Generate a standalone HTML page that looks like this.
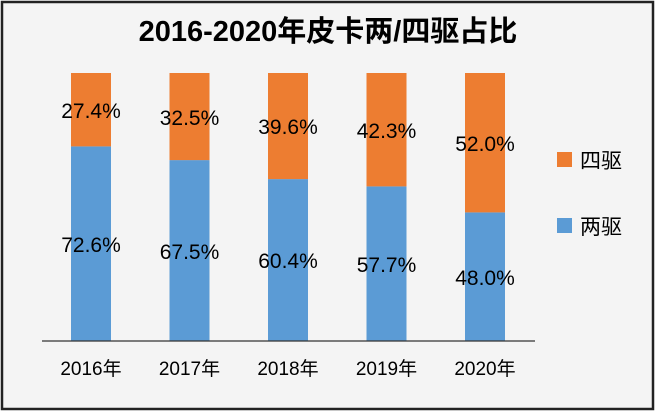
<!DOCTYPE html>
<html><head><meta charset="utf-8"><style>
body{margin:0;width:656px;height:413px;overflow:hidden;background:#fff}
svg{display:block}
text{font-family:"Liberation Sans","Noto Sans CJK SC",sans-serif;fill:#000}
</style></head><body>
<svg width="656" height="413" xmlns="http://www.w3.org/2000/svg">
<rect x="2" y="2" width="651" height="407" fill="#f4f4f4" stroke="#222" stroke-width="2.5"/>
<text x="328" y="41" font-size="29" font-weight="bold" text-anchor="middle">2016-2020年皮卡两/四驱占比</text>

<rect x="71" y="146.4" width="40" height="194.6" fill="#5B9BD5"/>
<rect x="71" y="73" width="40" height="73.4" fill="#ED7D31"/>
<text x="91" y="118" font-size="21" text-anchor="middle">27.4%</text>
<text x="91" y="252" font-size="21" text-anchor="middle">72.6%</text>
<text x="91" y="375" font-size="19" text-anchor="middle">2016年</text>

<rect x="169.5" y="160.1" width="40" height="180.9" fill="#5B9BD5"/>
<rect x="169.5" y="73" width="40" height="87.1" fill="#ED7D31"/>
<text x="189.5" y="125" font-size="21" text-anchor="middle">32.5%</text>
<text x="189.5" y="259" font-size="21" text-anchor="middle">67.5%</text>
<text x="189.5" y="375" font-size="19" text-anchor="middle">2017年</text>

<rect x="268" y="179.1" width="40" height="161.9" fill="#5B9BD5"/>
<rect x="268" y="73" width="40" height="106.1" fill="#ED7D31"/>
<text x="288" y="134" font-size="21" text-anchor="middle">39.6%</text>
<text x="288" y="268" font-size="21" text-anchor="middle">60.4%</text>
<text x="288" y="375" font-size="19" text-anchor="middle">2018年</text>

<rect x="366.5" y="186.4" width="40" height="154.6" fill="#5B9BD5"/>
<rect x="366.5" y="73" width="40" height="113.4" fill="#ED7D31"/>
<text x="386.5" y="138" font-size="21" text-anchor="middle">42.3%</text>
<text x="386.5" y="272" font-size="21" text-anchor="middle">57.7%</text>
<text x="386.5" y="375" font-size="19" text-anchor="middle">2019年</text>

<rect x="465" y="212.4" width="40" height="128.6" fill="#5B9BD5"/>
<rect x="465" y="73" width="40" height="139.4" fill="#ED7D31"/>
<text x="485" y="151" font-size="21" text-anchor="middle">52.0%</text>
<text x="485" y="285" font-size="21" text-anchor="middle">48.0%</text>
<text x="485" y="375" font-size="19" text-anchor="middle">2020年</text>

<line x1="42" y1="341" x2="535" y2="341" stroke="#333" stroke-width="1.2"/>
<rect x="557" y="152" width="15" height="15" fill="#ED7D31"/>
<text x="580" y="168" font-size="21">四驱</text>
<rect x="557" y="218" width="15" height="15" fill="#5B9BD5"/>
<text x="580" y="234" font-size="21">两驱</text>
</svg>
</body></html>
